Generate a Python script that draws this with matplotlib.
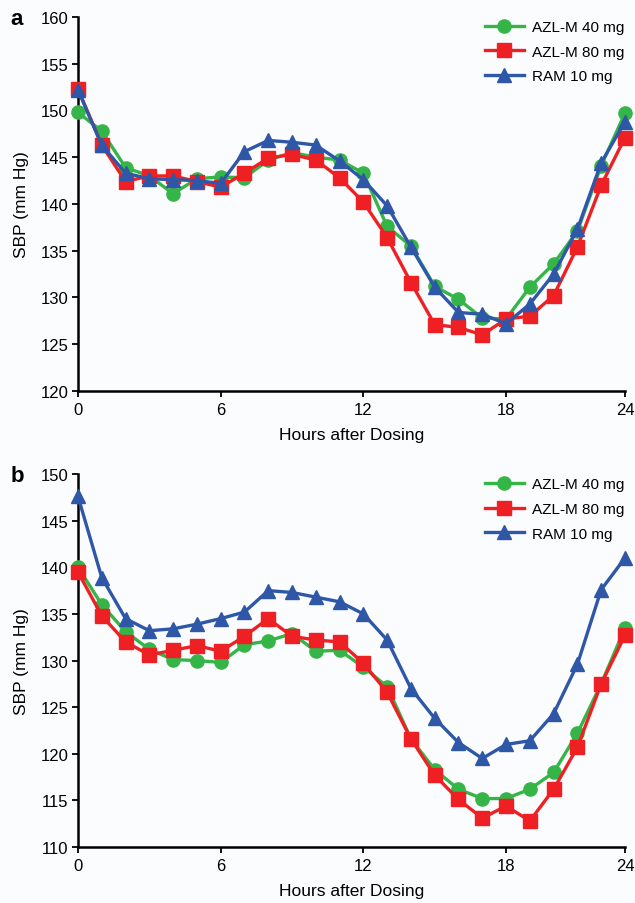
import matplotlib
matplotlib.use('Agg')
import matplotlib.pyplot as plt

plt.rcParams['font.family'] = ['Liberation Sans', 'DejaVu Sans']

# hourly points, plotted by index; last tick is labelled 24
hours = list(range(24))
tick_pos = [0, 6, 12, 18, 23]
tick_lab = ['0', '6', '12', '18', '24']

# panel a
a_azl40 = [149.8, 147.8, 143.9, 143.0, 141.1, 142.7, 142.9, 142.8, 144.7, 145.5, 145.0, 144.7,
           143.3, 137.6, 135.5, 131.2, 129.8, 127.8, 127.7, 131.1, 133.6, 137.1, 144.1, 149.7]
a_azl80 = [152.3, 146.3, 142.4, 143.0, 143.0, 142.4, 141.8, 143.3, 144.9, 145.3, 144.7, 142.8,
           140.2, 136.4, 131.6, 127.1, 126.8, 126.0, 127.7, 128.0, 130.2, 135.4, 142.0, 147.1]
a_ram10 = [152.2, 146.3, 143.3, 142.7, 142.6, 142.5, 142.2, 145.6, 146.8, 146.6, 146.3, 144.6,
           142.6, 139.8, 135.4, 131.1, 128.4, 128.2, 127.2, 129.3, 132.5, 137.3, 144.4, 148.8]

# panel b
b_azl40 = [140.0, 136.0, 133.1, 131.2, 130.1, 130.0, 129.8, 131.7, 132.1, 132.9, 131.0, 131.1,
           129.3, 127.2, 121.6, 118.3, 116.2, 115.2, 115.2, 116.2, 118.0, 122.2, 127.5, 133.5]
b_azl80 = [139.5, 134.8, 132.0, 130.6, 131.1, 131.6, 131.0, 132.6, 134.5, 132.6, 132.2, 132.0,
           129.7, 126.6, 121.6, 117.7, 115.1, 113.1, 114.4, 112.8, 116.2, 120.7, 127.5, 132.7]
b_ram10 = [147.6, 138.9, 134.5, 133.2, 133.4, 133.9, 134.5, 135.2, 137.5, 137.3, 136.8, 136.3,
           135.0, 132.2, 127.0, 123.8, 121.2, 119.5, 121.0, 121.4, 124.3, 129.6, 137.6, 141.0]

labels = ['AZL-M 40 mg', 'AZL-M 80 mg', 'RAM 10 mg']
colors = ['#35b548', '#ee2024', '#2f57a8']
markers = ['o', 's', '^']

bg = '#fbfcfe'
fig = plt.figure(figsize=(6.35, 9.04), dpi=100, facecolor=bg)
ax_a = fig.add_axes([0.1228, 0.5664, 0.8614, 0.4137])
ax_b = fig.add_axes([0.1228, 0.0619, 0.8614, 0.4126])

panels = [
    (ax_a, [a_azl40, a_azl80, a_ram10], (120, 160), 'a'),
    (ax_b, [b_azl40, b_azl80, b_ram10], (110, 150), 'b'),
]

for ax, series, ylim, tag in panels:
    ax.set_facecolor(bg)
    for vals, lab, c, m in zip(series, labels, colors, markers):
        ax.plot(hours, vals, color=c, lw=2.4, marker=m, markersize=9.5,
                markeredgecolor=c, label=lab, clip_on=False, zorder=3)
    ax.set_xlim(0, 23)
    ax.set_ylim(*ylim)
    ax.set_yticks(range(ylim[0], ylim[1] + 1, 5))
    ax.set_xticks(tick_pos)
    ax.set_xticklabels(tick_lab)
    for s in ['top', 'right']:
        ax.spines[s].set_visible(False)
    for s in ['left', 'bottom']:
        ax.spines[s].set_linewidth(1.8)
    ax.tick_params(direction='out', length=4, width=1.3, labelsize=12, pad=3)
    ax.tick_params(axis='x', pad=4)
    ax.set_xlabel('Hours after Dosing', fontsize=12.5, labelpad=7)
    ax.set_ylabel('SBP (mm Hg)', fontsize=12.5, labelpad=8)
    ax.legend(loc='upper right', frameon=False, fontsize=11, handlelength=2.6,
              handletextpad=0.5, labelspacing=0.7, borderaxespad=0.0,
              bbox_to_anchor=(1.01, 1.008))
    pos = ax.get_position()
    fig.text(0.017, pos.y1 - 0.002, tag, fontsize=16, fontweight='bold', va='center')

fig.savefig('out.png', dpi=100, facecolor=bg)
